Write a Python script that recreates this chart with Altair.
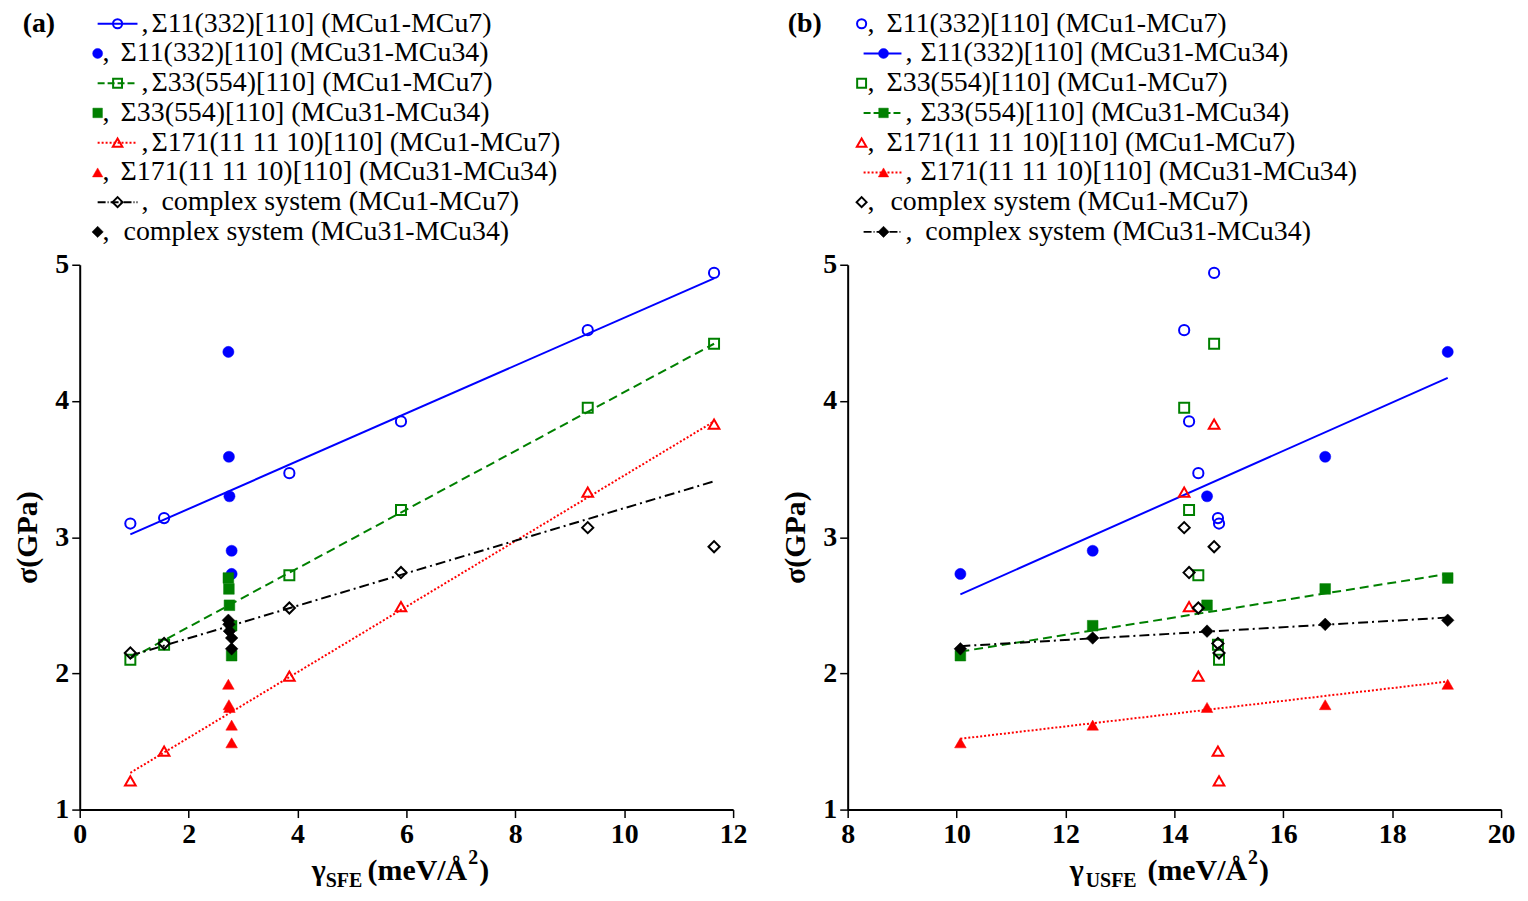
import altair as alt
import pandas as pd

# ---------------- data ----------------
# MCu1-MCu7 systems (open markers)
sfe_mcu1_7 = [0.93, 1.55, 3.85, 5.90, 9.33, 11.65]
usfe_mcu1_7 = [14.82, 14.80, 14.44, 14.27, 14.18, 14.73]
s11_mcu1_7 = [3.10, 3.14, 3.47, 3.85, 4.52, 4.94]
s33_mcu1_7 = [2.10, 2.21, 2.72, 3.20, 3.95, 4.42]
s171_mcu1_7 = [1.21, 1.43, 1.98, 2.49, 3.33, 3.83]
cx_mcu1_7 = [2.15, 2.22, 2.48, 2.74, 3.07, 2.93]

# MCu31-MCu34 systems (filled markers)
sfe_mcu31_34 = [2.79, 2.79, 2.75, 2.74, 2.73]
usfe_mcu31_34 = [10.07, 12.50, 14.60, 16.77, 19.02]
s11_mcu31_34 = [2.73, 2.90, 3.30, 3.59, 4.36]
s33_mcu31_34 = [2.13, 2.35, 2.50, 2.62, 2.70]
s171_mcu31_34 = [1.49, 1.62, 1.75, 1.77, 1.92]
cx_mcu31_34 = [2.18, 2.26, 2.31, 2.36, 2.39]

# fitted lines (end points)
fit_a_x = [0.93, 11.65]
fit_a_s11 = [3.02, 4.90]
fit_a_s33 = [2.11, 4.42]
fit_a_s171 = [1.27, 3.85]
fit_a_cx = [2.13, 3.41]

fit_b_x = [10.07, 19.02]
fit_b_s11 = [2.58, 4.17]
fit_b_s33 = [2.16, 2.73]
fit_b_s171 = [1.52, 1.94]
fit_b_cx = [2.20, 2.41]

series_names = ["Σ11(332)[110]", "Σ33(554)[110]", "Σ171(11 11 10)[110]", "complex system"]
group_names = ["(MCu1-MCu7)", "(MCu31-MCu34)"]

x_ticks_a = [0, 2, 4, 6, 8, 10, 12]
x_ticks_b = [8, 10, 12, 14, 16, 18, 20]
y_ticks = [1, 2, 3, 4, 5]

# ---------------- styles ----------------
FONT = "Liberation Serif"
COLORS = ["#0000ff", "#008000", "#ff0000", "#000000"]
SHAPES = ["circle", "square", "triangle-up", "diamond"]
DASHES = [None, [9, 5], [2, 2], [10, 4, 2, 4]]
OPEN_SIZE = [105, 100, 115, 125]
FILL_SIZE = [125, 115, 135, 160]
W, H = 656, 547
ROW_RANGE = [-242, -33]
dummy = pd.DataFrame({"d": [0]})


def txt(text, size, x, y, weight="bold", align="left", baseline="alphabetic"):
    return alt.Chart(dummy).mark_text(
        text=text, font=FONT, fontSize=size, fontWeight=weight, align=align,
        baseline=baseline, color="black").encode(x=alt.value(x), y=alt.value(y))


def panel(x_open, x_fill, fit_x, fits, xdom, xticks, line_on_open, tag, sub, tpos, leg):
    xenc = alt.X("x:Q", scale=alt.Scale(domain=xdom, nice=False, zero=False),
                 axis=alt.Axis(values=xticks, title=None, format="d"))
    yenc = alt.Y("y:Q", scale=alt.Scale(domain=[1, 5], nice=False, zero=False),
                 axis=alt.Axis(values=y_ticks, title="σ(GPa)", format="d"))
    opens = [s11_mcu1_7, s33_mcu1_7, s171_mcu1_7, cx_mcu1_7]
    fills = [s11_mcu31_34, s33_mcu31_34, s171_mcu31_34, cx_mcu31_34]

    data_layers = []
    for i in range(4):
        lkw = dict(color=COLORS[i], strokeWidth=2)
        if DASHES[i]:
            lkw["strokeDash"] = DASHES[i]
        data_layers.append(
            alt.Chart(pd.DataFrame({"x": fit_x, "y": fits[i]})).mark_line(**lkw).encode(x=xenc, y=yenc))
    for i in range(4):
        data_layers.append(
            alt.Chart(pd.DataFrame({"x": x_open, "y": opens[i]}))
            .mark_point(shape=SHAPES[i], filled=False, stroke=COLORS[i], strokeWidth=2,
                        size=OPEN_SIZE[i], opacity=1)
            .encode(x=xenc, y=yenc))
        data_layers.append(
            alt.Chart(pd.DataFrame({"x": x_fill, "y": fills[i]}))
            .mark_point(shape=SHAPES[i], filled=True, fill=COLORS[i], stroke=COLORS[i],
                        strokeWidth=0.5, size=FILL_SIZE[i], opacity=1)
            .encode(x=xenc, y=yenc))

    # x-axis title: gamma + subscript + unit with superscript
    g_x, s_x, u_x = tpos
    data_layers.append(txt("γ", 30, g_x, H + 71))
    data_layers.append(txt(sub, 20, s_x, H + 78))
    data_layers.append(txt("(meV/Å", 30, u_x, H + 71))
    data_layers.append(txt("2", 20, u_x + 101, H + 55))
    data_layers.append(txt(")", 30, u_x + 112, H + 71))

    # custom legend above the plot
    yrow = lambda: alt.Y("row:Q", scale=alt.Scale(domain=[0, 7], range=ROW_RANGE, nice=False, zero=False), axis=None)
    leg_layers = []
    leg_layers.append(alt.Chart(pd.DataFrame({"row": [0]})).mark_text(
        text=tag, font=FONT, fontSize=28, fontWeight="bold", align="center",
        baseline="middle", color="black").encode(x=alt.value(leg["tag"]), y=yrow()))
    row = 0
    for i in range(4):
        for g in range(2):
            is_open = (g == 0)
            has_line = (is_open == line_on_open)
            rdf = pd.DataFrame({"row": [row]})
            key = "line" if has_line else "sym"
            p = leg[key]
            extra = leg["cx_" + key] if i == 3 else 0
            if has_line:
                lkw = dict(color=COLORS[i], strokeWidth=2)
                if DASHES[i]:
                    lkw["strokeDash"] = [max(1, d - 2) for d in DASHES[i]] if i != 2 else DASHES[i]
                leg_layers.append(alt.Chart(rdf).mark_rule(**lkw).encode(
                    x=alt.value(p["x0"]), x2=alt.value(p["x1"]), y=yrow()))
            if is_open:
                mk = alt.Chart(rdf).mark_point(shape=SHAPES[i], filled=False, stroke=COLORS[i],
                                               strokeWidth=2, size=OPEN_SIZE[i] * 0.8, opacity=1)
            else:
                mk = alt.Chart(rdf).mark_point(shape=SHAPES[i], filled=True, fill=COLORS[i],
                                               stroke=COLORS[i], strokeWidth=0.5,
                                               size=FILL_SIZE[i] * 0.8, opacity=1)
            leg_layers.append(mk.encode(x=alt.value(p["sym"]), y=yrow()))
            leg_layers.append(alt.Chart(rdf).mark_text(
                text=",", font=FONT, fontSize=28, align="left", baseline="middle",
                color="black").encode(x=alt.value(p["comma"]), y=yrow()))
            leg_layers.append(alt.Chart(rdf).mark_text(
                text=series_names[i] + " " + group_names[g], font=FONT, fontSize=28,
                align="left", baseline="middle", color="black").encode(
                x=alt.value(p["label"] + extra), y=yrow()))
            row += 1

    return alt.layer(alt.layer(*data_layers), alt.layer(*leg_layers)).resolve_scale(
        y="independent").properties(width=W, height=H)


leg_a = {"tag": -41,
         "line": {"x0": 18, "x1": 58, "sym": 38, "comma": 62, "label": 72},
         "sym": {"sym": 18, "comma": 23, "label": 41},
         "cx_line": 10, "cx_sym": 3}
leg_b = {"tag": -43,
         "sym": {"sym": 14, "comma": 20, "label": 39},
         "line": {"x0": 16, "x1": 54, "sym": 36, "comma": 58, "label": 73},
         "cx_line": 5, "cx_sym": 4}

pa = panel(sfe_mcu1_7, sfe_mcu31_34, fit_a_x,
           [fit_a_s11, fit_a_s33, fit_a_s171, fit_a_cx],
           [0, 12], x_ticks_a, True, "(a)", "SFE", (233, 247, 289), leg_a)
pb = panel(usfe_mcu1_7, usfe_mcu31_34, fit_b_x,
           [fit_b_s11, fit_b_s33, fit_b_s171, fit_b_cx],
           [8, 20], x_ticks_b, False, "(b)", "USFE", (223, 239, 301), leg_b)

chart = alt.hconcat(pa, pb, spacing=34).properties(
    padding={"left": 5, "top": 0, "right": 5, "bottom": 5},
    background="white"
).configure_view(stroke=None).configure_axis(
    grid=False,
    domainColor="black", domainWidth=2,
    tickColor="black", tickWidth=1.5, tickSize=8,
    labelFont=FONT, labelFontSize=28, labelFontWeight="bold", labelColor="black",
    labelPadding=3, labelFlush=False, labelOverlap=False,
    titleFont=FONT, titleFontSize=30, titleFontWeight="bold", titleColor="black",
    titlePadding=12,
)

chart.save("out.html", embed_options={"renderer": "svg", "actions": False})
